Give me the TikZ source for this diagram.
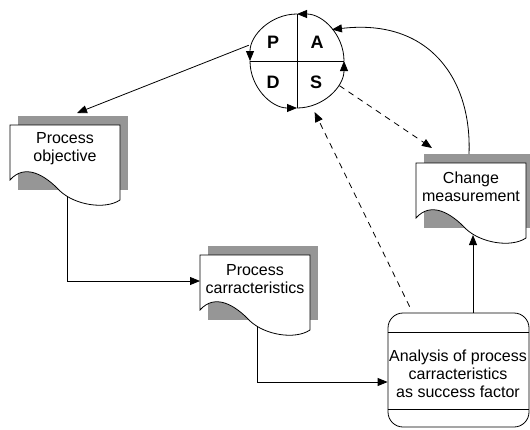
\documentclass[tikz,border=0pt]{standalone}
\usepackage{fontspec}
\setmainfont{Liberation Sans}
\usetikzlibrary{arrows.meta, calc}

\definecolor{shadowgray}{RGB}{150,150,150}

\tikzset{
  >={Triangle[length=10pt,width=8pt]},
  doctext/.style={align=center, font=\fontsize{16}{18}\selectfont, inner sep=0pt},
  letter/.style={font=\bfseries\fontsize{18}{18}\selectfont},
  dashedline/.style={dashed, dash pattern=on 6pt off 5pt},
  docpage/.pic={
    \fill[shadowgray] (8,-9) rectangle (118,65);
    \draw[fill=white] (0,0) -- (110,0) -- (110,75)
      .. controls (95,85) and (65,80) .. (50,66)
      .. controls (35,50) and (15,38) .. (0,55) -- cycle;
    \node[doctext] (-txt) at (55,24) {#1};
    \coordinate (-top) at (60,-9);
    \coordinate (-nw) at (16,-15);
    \coordinate (-bot) at (57,72);
    \coordinate (-west) at (0,26);
  }
}

\begin{document}
\begin{tikzpicture}[x=1pt, y=-1pt, line width=0.8pt]
  \useasboundingbox (0,0) rectangle (530,429);

  % PDSA wheel
  \node[circle, minimum size=94pt, inner sep=0pt, outer sep=0pt] (pdsa) at (297,61) {};
  \draw (pdsa.north) -- (pdsa.south);
  \draw (pdsa.west) -- (pdsa.east);
  \draw[->] (pdsa.east) arc (0:-90:47);
  \draw[->] (pdsa.north) arc (-90:-180:47);
  \draw[->] (pdsa.west) arc (180:90:47);
  \draw[->] (pdsa.south) arc (90:0:47);
  \node[letter] (p) at ($(pdsa.center)+(-24,-19)$) {P};
  \node[letter] (a) at ($(pdsa.center)+(20,-19)$) {A};
  \node[letter] (d) at ($(pdsa.center)+(-24,21)$) {D};
  \node[letter] (s) at ($(pdsa.center)+(19,21)$) {S};

  % documents
  \pic (objdoc) at (10,125) {docpage={Process\\objective}};
  \pic (carrdoc) at (200,255) {docpage={Process\\carracteristics}};
  \pic (chgdoc) at (416,163) {docpage={Change\\measurement}};

  % analysis box
  \node[draw, rounded corners=15pt, minimum width=141pt, minimum height=114pt, inner sep=0pt] (ana) at (458.5,370) {};
  \draw ($(ana.north west)+(0,20)$) -- ($(ana.north east)+(0,20)$);
  \draw ($(ana.south west)+(0,-18)$) -- ($(ana.south east)+(0,-18)$);
  \node[doctext] (anatxt) at (458,374) {Analysis of process\\carracteristics\\as success factor};

  % connectors
  \draw[->, shorten <=5pt] (pdsa.158) -- ($(objdoc-top)+(7,-3)$);
  \draw[->] (objdoc-bot) |- (carrdoc-west);
  \draw[->] (carrdoc-bot) |- ($(ana.west)+(0,12)$);
  \draw[->] (chgdoc-bot |- ana.north) -- (chgdoc-bot);
  \draw[->] ($(chgdoc-top)+(-7,0)$) .. controls (472,80) and (430,18) .. (pdsa.42);
  \draw[->, dashedline, shorten <=2pt] (pdsa.-30) -- (chgdoc-nw);
  \draw[->, dashedline, shorten >=7pt] ($(ana.north west)+(22,-6)$) -- (pdsa.-72);
\end{tikzpicture}
\end{document}
